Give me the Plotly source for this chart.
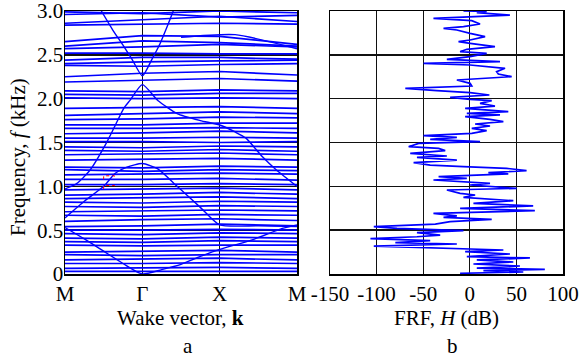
import plotly.graph_objects as go

# ---------------- data ----------------
k_points = [0, 1, 2, 3]          # M, Gamma, X, M
k_labels = ["M", "Γ", "X", "M"]

# nearly flat bands: frequency (kHz) at M, Γ, X, M
flat_bands = [
    [2.99, 2.97, 3.00, 2.98], [2.96, 2.98, 2.93, 2.95], [2.86, 2.90, 2.94, 2.88],
    [2.84, 2.85, 2.86, 2.85], [2.65, 2.72, 2.71, 2.62], [2.60, 2.66, 2.64, 2.60],
    [2.57, 2.59, 2.62, 2.59], [2.52, 2.52, 2.51, 2.51], [2.44, 2.47, 2.47, 2.45],
    [2.40, 2.42, 2.43, 2.44], [2.38, 2.37, 2.39, 2.40], [2.25, 2.29, 2.31, 2.27],
    [2.19, 2.21, 2.23, 2.20], [2.09, 2.08, 2.10, 2.09], [2.05, 2.04, 2.06, 2.06],
    [2.01, 2.00, 2.01, 2.00], [1.89, 1.90, 1.91, 1.89], [1.81, 1.83, 1.85, 1.83],
    [1.76, 1.77, 1.79, 1.78], [1.70, 1.70, 1.72, 1.72], [1.66, 1.66, 1.67, 1.66],
    [1.60, 1.61, 1.63, 1.61], [1.55, 1.55, 1.56, 1.55], [1.51, 1.51, 1.50, 1.51],
    [1.45, 1.44, 1.46, 1.45], [1.41, 1.40, 1.42, 1.40], [1.36, 1.37, 1.38, 1.36],
    [1.30, 1.31, 1.32, 1.30], [1.22, 1.21, 1.23, 1.22], [1.19, 1.17, 1.19, 1.18],
    [1.13, 1.14, 1.15, 1.14], [1.08, 1.08, 1.09, 1.07], [1.02, 1.02, 1.03, 1.02],
    [0.96, 0.97, 0.98, 0.96], [0.90, 0.91, 0.93, 0.91], [0.86, 0.87, 0.88, 0.86],
    [0.82, 0.81, 0.83, 0.82], [0.77, 0.76, 0.78, 0.77], [0.71, 0.72, 0.73, 0.72],
    [0.67, 0.66, 0.68, 0.67], [0.60, 0.62, 0.63, 0.61], [0.54, 0.55, 0.57, 0.55],
    [0.50, 0.50, 0.51, 0.50], [0.46, 0.45, 0.47, 0.46], [0.41, 0.40, 0.42, 0.41],
    [0.37, 0.36, 0.38, 0.37], [0.33, 0.32, 0.33, 0.33], [0.25, 0.26, 0.27, 0.25],
    [0.22, 0.21, 0.22, 0.22], [0.16, 0.17, 0.18, 0.16], [0.12, 0.12, 0.13, 0.12],
    [0.065, 0.07, 0.075, 0.065], [0.03, 0.03, 0.035, 0.03],
]

# dispersive bands: (k, f) samples
acoustic_k = [0, 0.25, 0.5, 0.75, 1.0, 1.25, 1.5, 1.75, 2.0, 2.42, 2.81, 3.0]
acoustic_f = [0.53, 0.40, 0.26, 0.12, 0.0, 0.05, 0.11, 0.20, 0.28, 0.39, 0.52, 0.56]

dome_k = [0, 0.25, 0.5, 0.65, 0.8, 1.0, 1.2, 1.45, 1.75, 2.0, 2.5, 3.0]
dome_f = [0.64, 0.83, 1.0, 1.15, 1.22, 1.26, 1.20, 1.0, 0.76, 0.56, 0.55, 0.54]

lambda_k = [0, 0.15, 0.32, 0.52, 0.63, 0.76, 0.84, 1.0, 1.2, 1.45, 1.75, 2.0, 2.2, 2.34, 2.55, 2.73, 3.0]
lambda_f = [0.97, 1.03, 1.18, 1.47, 1.66, 1.89, 1.98, 2.16, 1.98, 1.83, 1.75, 1.70, 1.62, 1.55, 1.34, 1.19, 1.0]

vee_k = [0.47, 0.62, 0.75, 0.86, 1.0, 1.13, 1.23, 1.32, 1.40]
vee_f = [3.0, 2.78, 2.61, 2.46, 2.26, 2.46, 2.63, 2.82, 3.0]

slant_k = [1.5, 2.2, 3.0]
slant_f = [2.70, 2.73, 2.57]

# small red dotted marker
mark_k = [0.50, 0.50, 0.64, 0.64]
mark_f_top = [1.08, 1.12, 1.12, 1.08]
mark_f_bot = [0.97, 1.01, 1.01, 0.97]

# FRF curve: frequency (kHz) and H (dB)
frf_f = [3.000, 2.995, 2.981, 2.954, 2.916, 2.890, 2.852, 2.821, 2.802, 2.783, 2.745, 2.707,
         2.669, 2.650, 2.631, 2.593, 2.563, 2.536, 2.517, 2.479, 2.449, 2.422, 2.403, 2.384,
         2.346, 2.308, 2.281, 2.251, 2.213, 2.175, 2.144, 2.118, 2.091, 2.068, 2.042, 2.015,
         1.992, 1.977, 1.947, 1.916, 1.890, 1.852, 1.833, 1.814, 1.795, 1.764, 1.738, 1.711,
         1.688, 1.662, 1.635, 1.605, 1.578, 1.559, 1.536, 1.510, 1.490, 1.452, 1.433, 1.407,
         1.376, 1.346, 1.331, 1.300, 1.270, 1.243, 1.224, 1.205, 1.179, 1.156, 1.141, 1.110,
         1.091, 1.072, 1.034, 1.015, 0.977, 0.958, 0.920, 0.901, 0.875, 0.836, 0.806, 0.776,
         0.749, 0.722, 0.692, 0.662, 0.646, 0.624, 0.597, 0.570, 0.540, 0.521, 0.494, 0.471,
         0.444, 0.425, 0.403, 0.380, 0.357, 0.342, 0.319, 0.293, 0.274, 0.255, 0.228, 0.198,
         0.183, 0.160, 0.137, 0.114, 0.091, 0.068, 0.053, 0.038, 0.023, 0.008, 0.0]
frf_h = [-6.8, 18.1, 7.5, 43.0, -39.0, 2.1, 11.0, -6.8, -28.2, -13.9, 0.3, 16.4,
         0.3, -12.1, 0.3, 27.0, -3.2, -10.4, 18.1, 0.3, -24.6, 32.4, -49.6, 0.3,
         37.8, 28.8, 30.6, 44.9, -13.9, 0.3, 2.1, -69.2, -35.3, 0.3, 21.0, -21.1,
         0.3, 23.5, 11.0, 27.0, -5.0, 41.3, -3.2, 32.4, -5.0, 21.7, 36.0, 5.7,
         21.7, 2.1, 18.1, 2.1, -49.6, -13.9, -42.5, 11.0, -54.9, -65.6, -33.5, -26.4,
         -63.9, -24.6, -56.7, -13.9, -60.3, -42.5, -6.8, 39.5, 60.9, 19.9, 41.3, -33.5,
         -3.2, -39.0, 21.7, 0.3, 50.2, -24.6, -10.4, 5.7, -6.8, 46.7, 3.9, 68.0,
         -10.4, 69.8, -39.0, -13.9, -28.2, 23.5, -21.1, -37.0, -103.0, -78.1, -6.8, -56.7,
         -31.8, -56.7, -106.6, -42.5, -79.9, -13.9, -103.0, -6.8, 36.0, -5.0, 43.0, -3.2,
         64.5, 7.5, 46.7, 3.9, 53.8, 7.5, 80.5, 14.6, 57.4, -10.4, 0.3]

f_ticks = [0, 0.5, 1.0, 1.5, 2.0, 2.5, 3.0]
f_tick_text = ["0", "0.5", "1.0", "1.5", "2.0", "2.5", "3.0"]
h_ticks = [-150, -100, -50, 0, 50, 100]
h_tick_text = ["-150", "-100", "-50", "0", "50", "100"]

# ---------------- figure ----------------
BLUE = "#0000FF"
FONT = "Liberation Serif"
fig = go.Figure()

for b in flat_bands:
    fig.add_trace(go.Scatter(x=k_points, y=b, mode="lines", xaxis="x", yaxis="y",
                             line=dict(color=BLUE, width=1.7), showlegend=False, hoverinfo="skip"))

for kk, ff in [(acoustic_k, acoustic_f), (dome_k, dome_f), (lambda_k, lambda_f),
               (vee_k, vee_f), (slant_k, slant_f)]:
    fig.add_trace(go.Scatter(x=kk, y=ff, mode="lines", xaxis="x", yaxis="y",
                             line=dict(color=BLUE, width=1.4, shape="spline", smoothing=0.6),
                             showlegend=False, hoverinfo="skip"))

for mf in [mark_f_top, mark_f_bot]:
    fig.add_trace(go.Scatter(x=mark_k, y=mf, mode="lines", xaxis="x", yaxis="y",
                             line=dict(color="red", width=1, dash="dot"),
                             showlegend=False, hoverinfo="skip"))

fig.add_trace(go.Scatter(x=frf_h, y=frf_f, mode="lines", xaxis="x2", yaxis="y2",
                         line=dict(color=BLUE, width=1.7), showlegend=False, hoverinfo="skip"))

W, H = 579, 363
xl = [65 / W, 297 / W]
xr = [330 / W, 563 / W]
yd = [1 - 274 / H, 1 - 11 / H]

tick_font = dict(family=FONT, size=21, color="black")
axis_common = dict(showline=True, mirror=True, linecolor="black", linewidth=1.5,
                   showgrid=True, gridcolor="#111111", gridwidth=1.4, zeroline=False,
                   ticks="", layer="above traces", automargin=False,
                   ticklabeloverflow="allow")

title_font = dict(family=FONT, size=21, color="black")

fig.update_layout(
    width=W, height=H,
    margin=dict(l=0, r=0, t=0, b=0, autoexpand=False),
    font=dict(family=FONT, size=20, color="black"),
    paper_bgcolor="white", plot_bgcolor="white",
    xaxis=dict(domain=xl, range=[0, 3], tickvals=k_points, ticktext=k_labels,
               anchor="y", ticklabelstandoff=0, tickfont=tick_font, **axis_common),
    yaxis=dict(domain=yd, range=[0, 3], tickvals=f_ticks, ticktext=f_tick_text,
               anchor="x", ticklabelstandoff=-4, tickfont=tick_font, **axis_common),
    xaxis2=dict(domain=xr, range=[-150, 100], tickvals=h_ticks, ticktext=h_tick_text,
                anchor="y2", ticklabelstandoff=0, tickfont=tick_font, **axis_common),
    yaxis2=dict(domain=yd, range=[0, 3], tickvals=f_ticks, showticklabels=False,
                anchor="x2", **axis_common),
    annotations=[
        dict(text="Frequency, <i>f</i> (kHz)", x=18 / W, y=1 - 157 / H, xref="paper", yref="paper",
             xanchor="center", yanchor="middle",
             textangle=-90, showarrow=False, font=title_font),
        dict(text="Wake vector, <b>k</b>", x=180 / W, y=1 - 318 / H, xref="paper", yref="paper",
             xanchor="center", yanchor="middle", showarrow=False, font=title_font),
        dict(text="FRF, <i>H</i> (dB)", x=446 / W, y=1 - 318 / H, xref="paper", yref="paper",
             xanchor="center", yanchor="middle", showarrow=False, font=title_font),
        dict(text="a", x=188 / W, y=1 - 346 / H, xref="paper", yref="paper",
             xanchor="center", yanchor="middle", showarrow=False, font=title_font),
        dict(text="b", x=452 / W, y=1 - 346 / H, xref="paper", yref="paper",
             xanchor="center", yanchor="middle", showarrow=False, font=title_font),
    ],
)

fig.write_html("out.html", config={"displayModeBar": False, "staticPlot": True},
               post_script="document.body.style.margin='0px';document.body.style.overflow='hidden';")
